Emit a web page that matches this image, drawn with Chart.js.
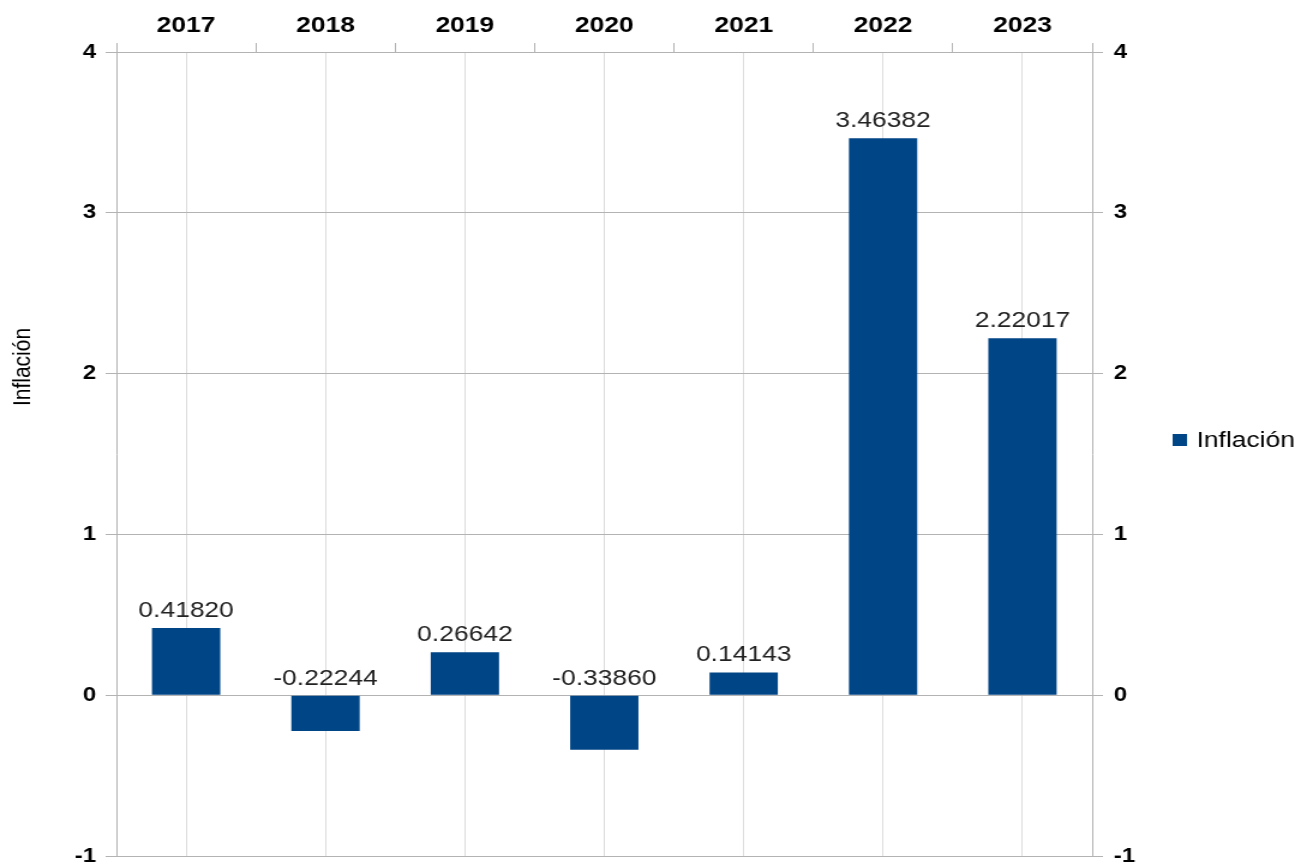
<!DOCTYPE html>
<html>
<head>
<meta charset="utf-8">
<script src="https://cdn.jsdelivr.net/npm/chart.js@4"></script>
<style>
  html, body { margin: 0; padding: 0; background: #fff; overflow: hidden; }
  #wrap { width: 1094px; height: 866px; transform: scaleX(1.20018); transform-origin: 0 0; }
  canvas { display: block; }
</style>
</head>
<body>
<div id="wrap"><canvas id="c" width="1094" height="866"></canvas></div>
<script>
const categories = ["2017", "2018", "2019", "2020", "2021", "2022", "2023"];
const inflacion = [0.41820, -0.22244, 0.26642, -0.33860, 0.14143, 3.46382, 2.22017];
const seriesName = "Inflación";
const axisTitle = "Inflación";
const yMin = -1, yMax = 4, yStep = 1;

const barColor = "#004586";
const gridColor = "#b3b3b3";
const vGridColor = "#dcdcdc";
const font = "'Liberation Sans', Arial, sans-serif";

const valueLabels = {
  id: "valueLabels",
  afterDatasetsDraw(chart) {
    const ctx = chart.ctx;
    const meta = chart.getDatasetMeta(0);
    ctx.save();
    ctx.font = "22px " + font;
    ctx.fillStyle = "#222";
    ctx.textAlign = "center";
    ctx.textBaseline = "alphabetic";
    meta.data.forEach((el, i) => {
      const top = Math.min(el.y, el.base);
      ctx.fillText(inflacion[i].toFixed(5), el.x, top - 11);
    });
    ctx.restore();
  }
};

const sideTexts = {
  id: "sideTexts",
  afterDraw(chart) {
    const ctx = chart.ctx;
    ctx.save();
    ctx.font = "21px " + font;
    ctx.fillStyle = "#000";
    ctx.textAlign = "center";
    ctx.textBaseline = "middle";
    ctx.translate(19, 367);
    ctx.rotate(-Math.PI / 2);
    ctx.fillText(axisTitle, 0, 0);
    ctx.restore();
    ctx.save();
    ctx.fillStyle = barColor;
    ctx.fillRect(977, 434, 12, 12);
    ctx.font = "22px " + font;
    ctx.fillStyle = "#000";
    ctx.textAlign = "left";
    ctx.textBaseline = "middle";
    ctx.fillText(seriesName, 997, 441);
    ctx.restore();
  }
};

function fixY(width) {
  return function (s) { s.width = width; s.paddingTop = 0; s.paddingBottom = 0; };
}

new Chart(document.getElementById("c"), {
  type: "bar",
  data: {
    labels: categories,
    datasets: [{
      label: seriesName,
      data: inflacion,
      backgroundColor: barColor,
      borderWidth: 0,
      categoryPercentage: 0.49,
      barPercentage: 1.0
    }]
  },
  options: {
    responsive: false,
    animation: false,
    devicePixelRatio: 1,
    layout: { padding: { top: 0, left: 0, right: 124, bottom: 10 } },
    plugins: { legend: { display: false }, tooltip: { enabled: false } },
    scales: {
      x: {
        position: "top",
        offset: true,
        grid: { offset: true, drawOnChartArea: false, drawTicks: true, tickLength: 9, color: gridColor },
        border: { display: true, color: gridColor },
        ticks: { color: "#000", font: { family: font, size: 22, weight: "bold" }, padding: 4, maxRotation: 0 },
        afterFit(s) { s.height = 52; s.paddingLeft = 0; s.paddingRight = 0; }
      },
      x2: {
        position: "bottom",
        offset: true,
        grid: { offset: false, drawTicks: false, color: vGridColor },
        border: { display: false },
        ticks: { display: false },
        afterFit(s) { s.height = 0; s.paddingLeft = 0; s.paddingRight = 0; }
      },
      y: {
        position: "left",
        min: yMin, max: yMax,
        ticks: { stepSize: yStep, color: "#000", font: { family: font, size: 20, weight: "bold" }, padding: 8 },
        grid: { color: gridColor, tickLength: 9 },
        border: { display: true, color: gridColor },
        afterFit: fixY(97)
      },
      y2: {
        position: "right",
        min: yMin, max: yMax,
        ticks: { stepSize: yStep, color: "#000", font: { family: font, size: 20, weight: "bold" }, padding: 9 },
        grid: { drawOnChartArea: false, color: gridColor, tickLength: 9 },
        border: { display: true, color: gridColor },
        afterFit: fixY(60)
      }
    }
  },
  plugins: [valueLabels, sideTexts]
});
</script>
</body>
</html>
